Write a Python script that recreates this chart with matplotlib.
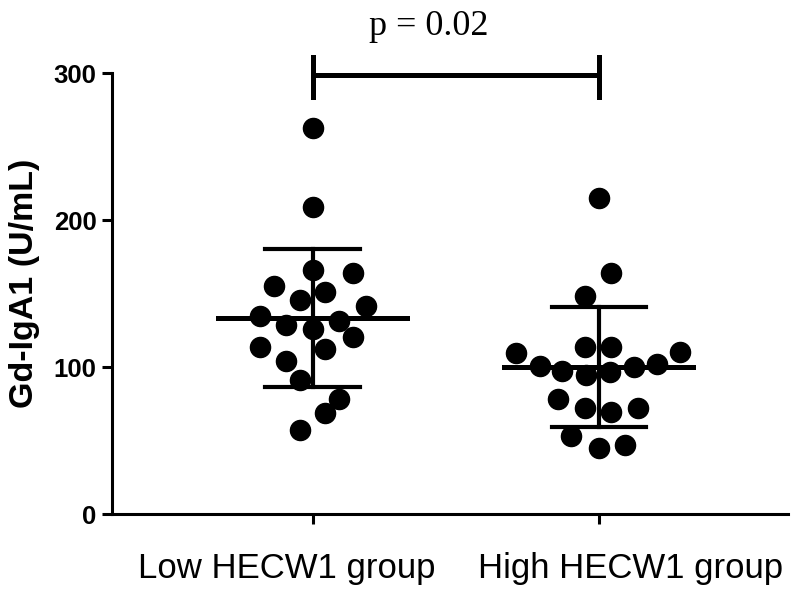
import numpy as np
import matplotlib.pyplot as plt

groups = ['Low HECW1 group', 'High HECW1 group']

low_vals = [262.6, 208.8, 166, 164, 155, 151, 145.6, 141.5, 134.7, 131.3,
            128.6, 125.9, 120.4, 113.6, 112.2, 104, 91.2, 78.2, 68.7, 57]
low_dx = [0, 0, 0, 0.14, -0.136, 0.045, -0.045, 0.185, -0.185, 0.094,
          -0.091, 0, 0.14, -0.185, 0.045, -0.091, -0.045, 0.094, 0.045, -0.045]

high_vals = [215, 164, 148.3, 113.6, 113.6, 110.2, 109.5, 102, 100.7, 100,
             97.3, 96.6, 94.6, 78.2, 72.1, 72.1, 69.4, 53, 46.9, 44.9]
high_dx = [0, 0.042, -0.049, -0.049, 0.042, 0.283, -0.29, 0.203, -0.206, 0.122,
           -0.129, 0.038, -0.045, -0.143, -0.049, 0.136, 0.042, -0.098, 0.091, 0]

means = [133.3, 100.0]
sds = [47.0, 40.8]
p_text = 'p = 0.02'

fig = plt.figure(figsize=(8, 5.95), dpi=100)
ax = fig.add_axes([0.14, 0.136, 0.845, 0.741])

xs = [1, 2]
for x0, vals, dx in [(1, low_vals, low_dx), (2, high_vals, high_dx)]:
    ax.scatter(x0 + np.array(dx), vals, s=210, color='black', zorder=3, clip_on=False)

# moyenne +/- écart-type
for x0, m, sd in zip(xs, means, sds):
    ax.plot([x0 - 0.33, x0 + 0.33], [m, m], color='black', lw=3.6, zorder=4)
    ax.plot([x0, x0], [m - sd, m + sd], color='black', lw=3.0, zorder=4)
    for yy in (m - sd, m + sd):
        ax.plot([x0 - 0.165, x0 + 0.165], [yy, yy], color='black', lw=3.0, zorder=4)

# barre de significativité
ax.plot([1, 2], [299, 299], color='black', lw=3.6, clip_on=False)
for x0 in xs:
    ax.plot([x0, x0], [284, 311], color='black', lw=3.6, clip_on=False)
ax.text(1.405, 326, p_text, ha='center', va='baseline', fontsize=26,
        family='Liberation Serif')

ax.set_xlim(0.3, 2.66)
ax.set_ylim(0, 300)
ax.set_yticks([0, 100, 200, 300])
ax.set_xticks(xs)
ax.set_xticklabels([])
# étiquettes des groupes, décalées par rapport aux graduations
for x0, name, dx in zip(xs, groups, [-18.7, 23]):
    ax.annotate(name, xy=(x0, 0), xycoords=('data', 'axes fraction'),
                xytext=(dx, -27), textcoords='offset points',
                ha='center', va='top', fontsize=25, family='Liberation Sans')
for lab in ax.get_yticklabels():
    lab.set_fontweight('bold')
    lab.set_fontsize(18.5)
    lab.set_family('Liberation Sans')
ax.set_ylabel('Gd-IgA1 (U/mL)', fontsize=24.5, fontweight='bold',
              family='Liberation Sans')
ax.yaxis.set_label_coords(-0.106, 0.524)

ax.spines['top'].set_visible(False)
ax.spines['right'].set_visible(False)
ax.spines['left'].set_linewidth(2.2)
ax.spines['bottom'].set_linewidth(2.2)
ax.tick_params(axis='both', width=2.2, length=7, direction='out')
ax.tick_params(axis='y', pad=4)

fig.savefig('out.png', dpi=100)
